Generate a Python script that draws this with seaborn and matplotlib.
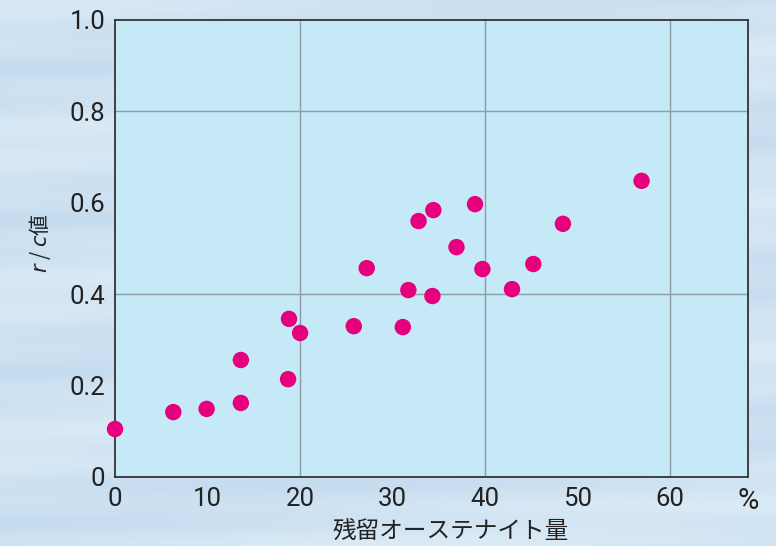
import matplotlib
matplotlib.use("Agg")
import matplotlib.pyplot as plt
import seaborn as sns
import numpy as np
import pandas as pd

# data
retained_austenite = [0.0, 6.3, 9.9, 13.6, 13.6, 18.7, 18.8, 20.0, 25.8, 27.2, 31.1,
                      31.7, 32.8, 34.3, 34.4, 36.9, 38.9, 39.7, 42.9, 45.2, 48.4, 56.9]
rc_value = [0.105, 0.142, 0.149, 0.162, 0.256, 0.214, 0.346, 0.315, 0.330, 0.457, 0.328,
            0.409, 0.560, 0.396, 0.584, 0.503, 0.597, 0.455, 0.411, 0.466, 0.554, 0.648]
x_ticks = [0, 10, 20, 30, 40, 50, 60]
x_tick_labels = ["0", "10", "20", "30", "40", "50", "60"]
y_ticks = [0, 0.2, 0.4, 0.6, 0.8, 1.0]
y_tick_labels = ["0", "0.2", "0.4", "0.6", "0.8", "1.0"]

df = pd.DataFrame({"x": retained_austenite, "y": rc_value})

sns.set_style("white")
plt.rcParams["font.family"] = ["Roboto", "Noto Sans CJK JP", "DejaVu Sans"]
plt.rcParams["mathtext.fontset"] = "dejavusans"

fig = plt.figure(figsize=(7.76, 5.46), dpi=100, facecolor="#cfe2f1")
# subtle textured background
bg = fig.add_axes([0, 0, 1, 1], zorder=-10)
yy = np.linspace(0, 1, 300)[:, None]
xx = np.linspace(0, 1, 400)[None, :]
tex = 0.5 + 0.045 * np.sin(yy * 90) + 0.1 * np.cos(yy * 23 + xx * 4)
bg.imshow(tex, cmap=matplotlib.colors.LinearSegmentedColormap.from_list(
    "bgc", ["#bcd6ec", "#e4f0f9"]), aspect="auto", extent=[0, 1, 0, 1], vmin=0.2, vmax=0.8)
bg.set_axis_off()

ax = fig.add_axes([0.1482, 0.1264, 0.8157, 0.837])
ax.set_facecolor("#c6e9f8")

sns.scatterplot(data=df, x="x", y="y", ax=ax, s=140, color="#e6007e",
                edgecolor="none", linewidth=0, zorder=5, clip_on=False)

ax.set_xlim(0, 68.4)
ax.set_ylim(0, 1.0)
ax.set_xticks(x_ticks)
ax.set_xticklabels(x_tick_labels)
ax.set_yticks(y_ticks)
ax.set_yticklabels(y_tick_labels)

for v in [20, 40, 60]:
    ax.axvline(v, color="#8c9ca3", lw=1.0, zorder=1)
for v in [0.4, 0.8]:
    ax.axhline(v, color="#8c9ca3", lw=1.0, zorder=1)

ax.tick_params(axis="both", direction="in", length=7, width=1.5, color="#444444",
               labelsize=18.5, labelcolor="#222222", pad=7)
for sp in ax.spines.values():
    sp.set_color("#333333")
    sp.set_linewidth(1.3)

ax.annotate("%", xy=(68.4, 0), xycoords="data", xytext=(0, -7),
            textcoords="offset points", ha="center", va="top",
            fontsize=21, color="#222222")

ax.set_xlabel("残留オーステナイト量", fontsize=17, color="#222222",
              family=["Noto Sans CJK JP", "DejaVu Sans"])
ax.xaxis.set_label_coords(0.531, -0.095)
ax.set_ylabel("$r$ / $c$値", fontsize=15, color="#222222",
              family=["Noto Sans CJK JP", "DejaVu Sans"])
ax.yaxis.set_label_coords(-0.098, 0.512)

fig.savefig("out.png", dpi=100, facecolor=fig.get_facecolor())
